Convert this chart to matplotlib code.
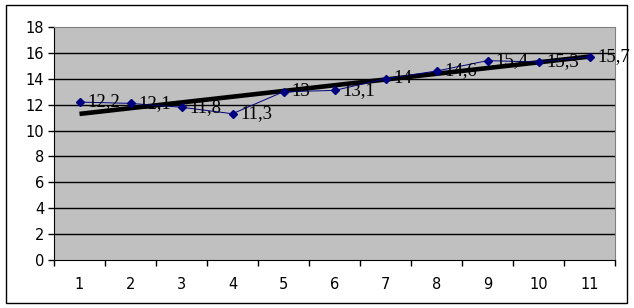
import matplotlib.pyplot as plt
import numpy as np
from matplotlib.patches import Rectangle

# datos del grafico
categorias = [1, 2, 3, 4, 5, 6, 7, 8, 9, 10, 11]
valores = [12.2, 12.1, 11.8, 11.3, 13.0, 13.1, 14.0, 14.6, 15.4, 15.3, 15.7]
etiquetas = ['12,2', '12,1', '11,8', '11,3', '13', '13,1', '14', '14,6', '15,4', '15,3', '15,7']
y_ticks = [0, 2, 4, 6, 8, 10, 12, 14, 16, 18]

fig = plt.figure(figsize=(6.34, 3.08), dpi=100)
ax = fig.add_axes([54 / 634, 1 - 260 / 308, (615 - 54) / 634, (260 - 27) / 308])
ax.set_facecolor('#c0c0c0')

x = np.array(categorias)
y = np.array(valores)

# linea de tendencia lineal
m, b = np.polyfit(x, y, 1)
ax.plot(x, m * x + b, color='black', lw=3.3, zorder=3, solid_capstyle='butt')

# serie de datos
ax.plot(x, y, color='#000080', lw=0.7, marker='D', ms=4, zorder=4)
for xi, yi, t in zip(x, y, etiquetas):
    ax.annotate(t, (xi, yi), xytext=(6, 0), textcoords='offset points',
                va='center', ha='left', fontsize=13.5, family='Liberation Serif',
                color='black', zorder=5)

ax.set_xlim(0.5, 11.5)
ax.set_ylim(0, 18)
ax.set_yticks(y_ticks)
for v in y_ticks[1:-1]:
    ax.axhline(v, color='black', lw=1, zorder=1)

ax.set_xticks(x)
ax.set_xticklabels([str(c) for c in categorias])
ax.set_xticks(np.arange(0.5, 12, 1), minor=True)
ax.tick_params(axis='x', which='major', length=0, pad=12, labelsize=10.5)
ax.tick_params(axis='x', which='minor', length=4, width=1, direction='out')
ax.tick_params(axis='y', length=4, width=1, direction='out', labelsize=10.5, pad=3)

ax.spines['left'].set_color('black')
ax.spines['bottom'].set_color('black')
ax.spines['top'].set_color('#808080')
ax.spines['right'].set_color('#808080')

# marco exterior
fig.patches.append(Rectangle((6 / 634, 5 / 308), 621 / 634, 298 / 308,
                             transform=fig.transFigure, fill=False,
                             edgecolor='black', lw=1))

plt.savefig('out.png', dpi=100)
